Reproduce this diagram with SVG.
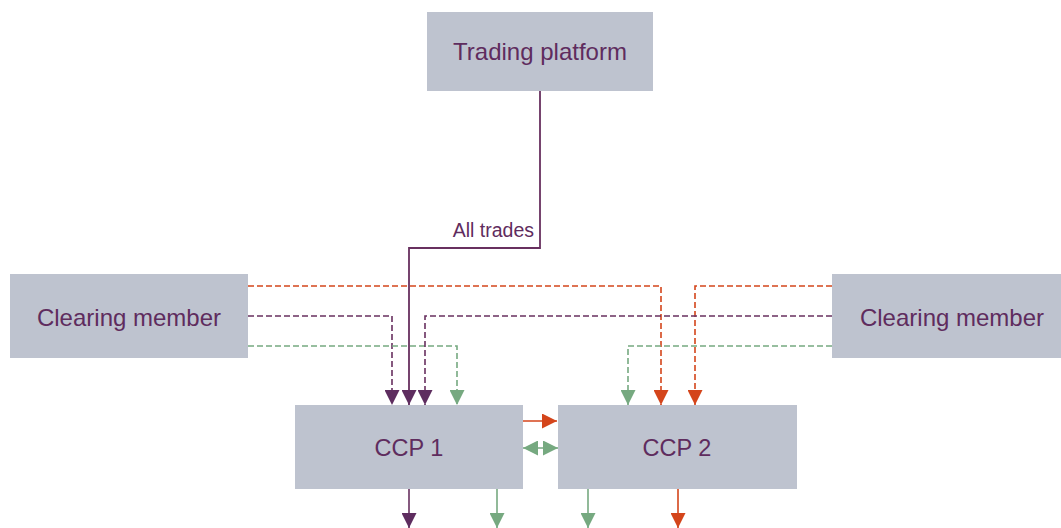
<svg xmlns="http://www.w3.org/2000/svg" width="1061" height="528" viewBox="0 0 1061 528">
  <style>
    .box { fill: #bec3cf; }
    .lbl { font-family: "Liberation Sans", Arial, sans-serif; fill: #5f2c5e; text-anchor: middle; }
    .ln { fill: none; stroke-width: 1.6; }
    .dash { stroke-dasharray: 6 3; }
    .pu { stroke: #68305f; }
    .or { stroke: #d4451b; }
    .gr { stroke: #76a980; }
  </style>
  <defs>
    <marker id="ahPu" markerWidth="15" markerHeight="15" refX="15" refY="7.5" orient="auto" markerUnits="userSpaceOnUse" viewBox="0 0 15 15">
      <path d="M0,0 L15,7.5 L0,15 Z" fill="#5e2d5f"/>
    </marker>
    <marker id="ahOr" markerWidth="15" markerHeight="15" refX="15" refY="7.5" orient="auto" markerUnits="userSpaceOnUse" viewBox="0 0 15 15">
      <path d="M0,0 L15,7.5 L0,15 Z" fill="#d4451b"/>
    </marker>
    <marker id="ahGr" markerWidth="15" markerHeight="15" refX="15" refY="7.5" orient="auto" markerUnits="userSpaceOnUse" viewBox="0 0 15 15">
      <path d="M0,0 L15,7.5 L0,15 Z" fill="#76a980"/>
    </marker>
    <marker id="ahGrS" markerWidth="15" markerHeight="15" refX="0" refY="7.5" orient="auto" markerUnits="userSpaceOnUse" viewBox="0 0 15 15">
      <path d="M15,0 L0,7.5 L15,15 Z" fill="#76a980"/>
    </marker>
  </defs>

  <g id="connectors">
    <!-- trading platform to CCP 1 -->
    <polyline class="ln pu" points="540,91 540,248 409,248 409,405" marker-end="url(#ahPu)" style="stroke-width:1.8"/>
    <text class="lbl" x="534" y="237" style="text-anchor:end;font-size:19.5px">All trades</text>

    <!-- left clearing member feeds -->
    <polyline class="ln dash or" points="248,286 661,286 661,405" marker-end="url(#ahOr)"/>
    <polyline class="ln dash pu" points="248,316 392,316 392,405" marker-end="url(#ahPu)"/>
    <polyline class="ln dash gr" points="248,346 457,346 457,405" marker-end="url(#ahGr)"/>

    <!-- right clearing member feeds -->
    <polyline class="ln dash or" points="832,286 695,286 695,405" marker-end="url(#ahOr)"/>
    <polyline class="ln dash pu" points="832,316 425,316 425,405" marker-end="url(#ahPu)"/>
    <polyline class="ln dash gr" points="832,346 628,346 628,405" marker-end="url(#ahGr)"/>

    <!-- between CCPs -->
    <line class="ln or" x1="523" y1="421" x2="557" y2="421" marker-end="url(#ahOr)"/>
    <line class="ln gr" x1="523" y1="448" x2="558" y2="448" marker-start="url(#ahGrS)" marker-end="url(#ahGr)"/>

    <!-- outputs below the CCPs -->
    <line class="ln pu" x1="409" y1="489" x2="409" y2="528" marker-end="url(#ahPu)"/>
    <line class="ln gr" x1="497" y1="489" x2="497" y2="528" marker-end="url(#ahGr)"/>
    <line class="ln gr" x1="588" y1="489" x2="588" y2="528" marker-end="url(#ahGr)"/>
    <line class="ln or" x1="678" y1="489" x2="678" y2="528" marker-end="url(#ahOr)"/>
  </g>

  <g id="trading-platform">
    <rect class="box" x="427" y="12" width="226" height="79"/>
    <text class="lbl" x="540" y="60" font-size="24">Trading platform</text>
  </g>

  <g id="clearing-member-left">
    <rect class="box" x="10" y="274" width="238" height="84"/>
    <text class="lbl" x="129" y="326" font-size="24">Clearing member</text>
  </g>

  <g id="clearing-member-right">
    <rect class="box" x="832" y="274" width="229" height="84"/>
    <text class="lbl" x="952" y="326" font-size="24">Clearing member</text>
  </g>

  <g id="ccp-1">
    <rect class="box" x="295" y="405" width="228" height="84"/>
    <text class="lbl" x="409" y="456" font-size="23.5">CCP 1</text>
  </g>

  <g id="ccp-2">
    <rect class="box" x="558" y="405" width="239" height="84"/>
    <text class="lbl" x="677" y="456" font-size="23.5">CCP 2</text>
  </g>
</svg>
